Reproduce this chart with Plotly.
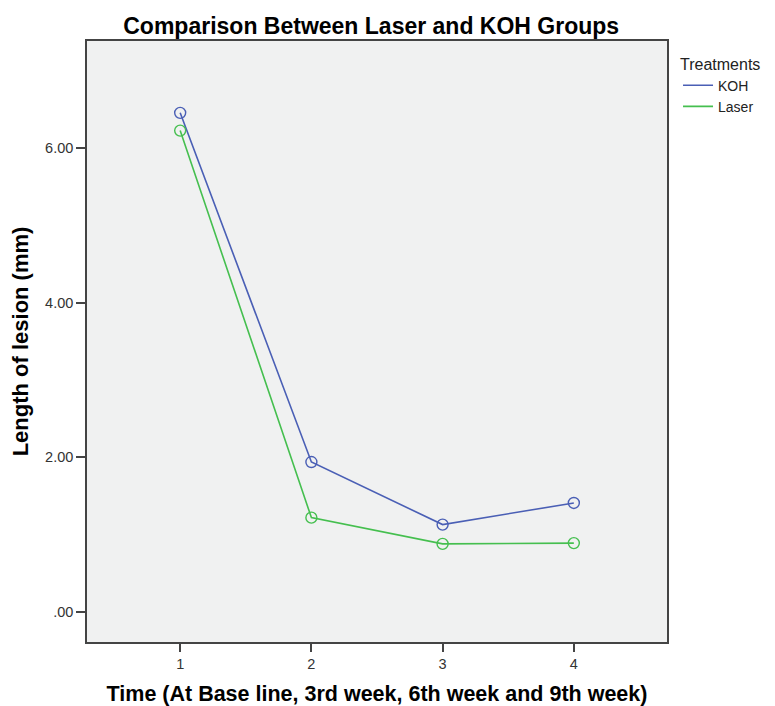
import plotly.graph_objects as go

time_points = [1, 2, 3, 4]
koh_values = [6.46, 1.94, 1.13, 1.41]
laser_values = [6.23, 1.22, 0.88, 0.89]
series_names = ["KOH", "Laser"]
y_tick_vals = [0, 2, 4, 6]
y_tick_text = [".00", "2.00", "4.00", "6.00"]
x_tick_vals = [1, 2, 3, 4]
x_tick_text = ["1", "2", "3", "4"]

FONT = "Liberation Sans, Arial, sans-serif"
COLORS = ["#4a5fb5", "#45bf4f"]

fig = go.Figure()
for name, vals, col in zip(series_names, [koh_values, laser_values], COLORS):
    fig.add_trace(go.Scatter(
        x=time_points, y=vals, name=name, mode="lines+markers", showlegend=False,
        line=dict(color=col, width=1.6),
        marker=dict(symbol="circle-open", size=11, color=col, line=dict(width=1.4)),
    ))
    # legend-only line entry (SPSS style: line without marker)
    fig.add_trace(go.Scatter(
        x=[None], y=[None], name=name, mode="lines",
        line=dict(color=col, width=1.6), showlegend=True,
    ))

fig.update_layout(
    width=767, height=698,
    margin=dict(l=79, r=106, t=33, b=64),
    paper_bgcolor="white", plot_bgcolor="#f0f1f1",
    font=dict(family=FONT, color="#222222"),
    title=dict(text="<b>Comparison Between Laser and KOH Groups</b>",
               x=0.49, xanchor="center", xref="paper", y=0.974, yanchor="middle",
               font=dict(size=23, color="black", family=FONT)),
    legend=dict(
        title=dict(text="Treatments", font=dict(size=16, color="#222")),
        x=1.019, xanchor="left", y=0.987, yanchor="top",
        font=dict(size=14, color="#222"), bgcolor="rgba(0,0,0,0)",
        itemwidth=30, tracegroupgap=0,
    ),
    xaxis=dict(
        range=[0.29, 4.71], tickvals=x_tick_vals, ticktext=x_tick_text,
        showgrid=False, zeroline=False, showline=True, linecolor="#444", linewidth=1.5,
        mirror=True, ticks="outside", ticklen=8, tickcolor="#444", tickwidth=1.5,
        tickfont=dict(size=14.5, color="#333"), automargin=False,
        title=dict(text="<b>Time (At Base line, 3rd week, 6th week and 9th week)</b>",
                   font=dict(size=21.5, color="black"), standoff=16),
    ),
    yaxis=dict(
        range=[-0.39, 7.39], tickvals=y_tick_vals, ticktext=y_tick_text,
        showgrid=False, zeroline=False, showline=True, linecolor="#444", linewidth=1.5,
        mirror=True, ticks="outside", ticklen=9, tickcolor="#444", tickwidth=1.5,
        tickfont=dict(size=14.5, color="#333"), automargin=False,
        title=dict(text="<b>Length of lesion (mm)</b>",
                   font=dict(size=22, color="black"), standoff=11),
    ),
)

fig.write_html("out.html")
